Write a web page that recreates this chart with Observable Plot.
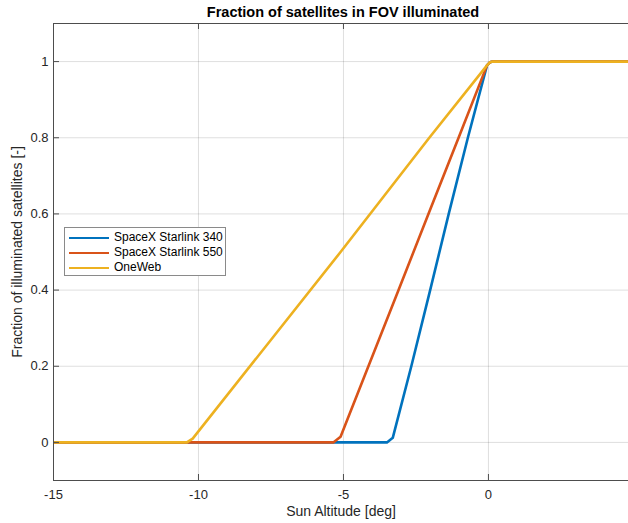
<!DOCTYPE html>
<html>
<head>
<meta charset="utf-8">
<script src="https://cdn.jsdelivr.net/npm/d3@7"></script>
<script src="https://cdn.jsdelivr.net/npm/@observablehq/plot@0.6"></script>
<style>
  html, body { margin: 0; padding: 0; background: white; }
  #wrap { position: relative; width: 628px; height: 523px; overflow: hidden; font-family: "Liberation Sans", Arial, Helvetica, sans-serif; color: #262626; }
  #title { position: absolute; left: 53px; top: 0; width: 580px; height: 23px; line-height: 24px; text-align: center; font-weight: bold; font-size: 14.5px; color: #000; }
  #chart { position: absolute; left: 0; top: 22px; }
  #legend { position: absolute; left: 64px; top: 227px; width: 162px; height: 49px; border: 1px solid #8a8a8a; background: white; box-sizing: border-box; padding-top: 2px; }
  .row { position: relative; height: 15px; font-size: 12px; line-height: 15px; }
  .row .sw { position: absolute; left: 4px; top: 6.5px; width: 40px; height: 2.5px; }
  .row .lb { position: absolute; left: 49px; top: 0; white-space: nowrap; color: #000; }
</style>
</head>
<body>
<div id="wrap">
  <div id="title">Fraction of satellites in FOV illuminated</div>
  <div id="chart"></div>
  <div id="legend"></div>
</div>
<script>
// ---- data ----
const seriesNames = ["SpaceX Starlink 340", "SpaceX Starlink 550", "OneWeb"];
const seriesColors = ["#0072BD", "#D95319", "#EDB120"];

const starlink340Alt = [-15, -3.5, -3.3, -2.66, -2.01, -1.37, -0.71, -0.05, 0.05, 0.15, 5];
const starlink340Frac = [0, 0, 0.012, 0.2, 0.4, 0.6, 0.8, 0.99, 0.998, 1, 1];

const starlink550Alt = [-15, -5.35, -5.1, -4.14, -3.1, -2.07, -1.03, -0.05, 0.05, 0.15, 5];
const starlink550Frac = [0, 0, 0.015, 0.2, 0.4, 0.6, 0.8, 0.99, 0.998, 1, 1];

const oneWebAlt = [-15, -10.4, -10.2, -5.1, -2.04, -0.05, 0.05, 0.15, 5];
const oneWebFrac = [0, 0, 0.01, 0.5, 0.8, 0.99, 0.998, 1, 1];

const xTicks = [-15, -10, -5, 0];
const xTickLabels = ["-15", "-10", "-5", "0"];
const yTicks = [0, 0.2, 0.4, 0.6, 0.8, 1];
const yTickLabels = ["0", "0.2", "0.4", "0.6", "0.8", "1"];

const xLabel = "Sun Altitude [deg]";
const yLabel = "Fraction of illuminated satellites [-]";

// ---- build table ----
const seriesAlt = [starlink340Alt, starlink550Alt, oneWebAlt];
const seriesFrac = [starlink340Frac, starlink550Frac, oneWebFrac];
const data = seriesNames.flatMap((name, s) =>
  seriesAlt[s].map((a, i) => ({series: name, alt: a, frac: seriesFrac[s][i]}))
);

const W = 628, H = 501;
const mL = 53, mR = 0, mT = 1, mB = 43;
const plotH = H - mT - mB;
const plotW = W - mL - mR;
const tickLen = 6;
const axisColor = "#4d4d4d";
const gridStyle = {stroke: "#000", strokeOpacity: 0.13, strokeWidth: 1};

const chart = Plot.plot({
  width: W, height: H,
  marginLeft: mL, marginRight: mR, marginTop: mT, marginBottom: mB,
  style: {fontFamily: '"Liberation Sans", Arial, Helvetica, sans-serif', color: "#262626", background: "white"},
  x: {domain: [-15, 4.83]},
  y: {domain: [-0.1, 1.1]},
  color: {domain: seriesNames, range: seriesColors},
  marks: [
    Plot.gridX(xTicks, gridStyle),
    Plot.gridY(yTicks, gridStyle),
    Plot.line(data, {x: "alt", y: "frac", z: "series", stroke: "series", strokeWidth: 2.6, clip: true, strokeLinejoin: "round"}),
    // box (left, top, bottom)
    Plot.ruleX([-15], {stroke: axisColor, strokeWidth: 1}),
    Plot.ruleY([-0.1, 1.1], {stroke: axisColor, strokeWidth: 1}),
    // inward tick marks
    Plot.ruleX(xTicks, {insetTop: plotH - tickLen, stroke: axisColor}),
    Plot.ruleX(xTicks, {insetBottom: plotH - tickLen, stroke: axisColor}),
    Plot.ruleY(yTicks, {insetRight: plotW - tickLen, stroke: axisColor}),
    Plot.axisX(xTicks, {tickSize: 0, tickPadding: 9, fontSize: 13, label: null, fill: "#262626",
      tickFormat: d => xTickLabels[xTicks.indexOf(d)]}),
    Plot.axisY(yTicks, {tickSize: 0, tickPadding: 5, fontSize: 13, label: null, fill: "#262626",
      tickFormat: d => yTickLabels[yTicks.indexOf(d)]}),
    Plot.text([xLabel], {text: d => d, frameAnchor: "bottom", textAnchor: "middle", dy: 35, fontSize: 14, fill: "#262626"}),
    Plot.text([yLabel], {text: d => d, frameAnchor: "left", textAnchor: "middle", dx: -36, rotate: -90, fontSize: 14, fill: "#262626"})
  ]
});
document.getElementById("chart").appendChild(chart);

// ---- legend ----
const legend = document.getElementById("legend");
seriesNames.forEach((name, i) => {
  const row = document.createElement("div");
  row.className = "row";
  const sw = document.createElement("div");
  sw.className = "sw";
  sw.style.background = seriesColors[i];
  const lb = document.createElement("div");
  lb.className = "lb";
  lb.textContent = name;
  row.appendChild(sw);
  row.appendChild(lb);
  legend.appendChild(row);
});
</script>
</body>
</html>
